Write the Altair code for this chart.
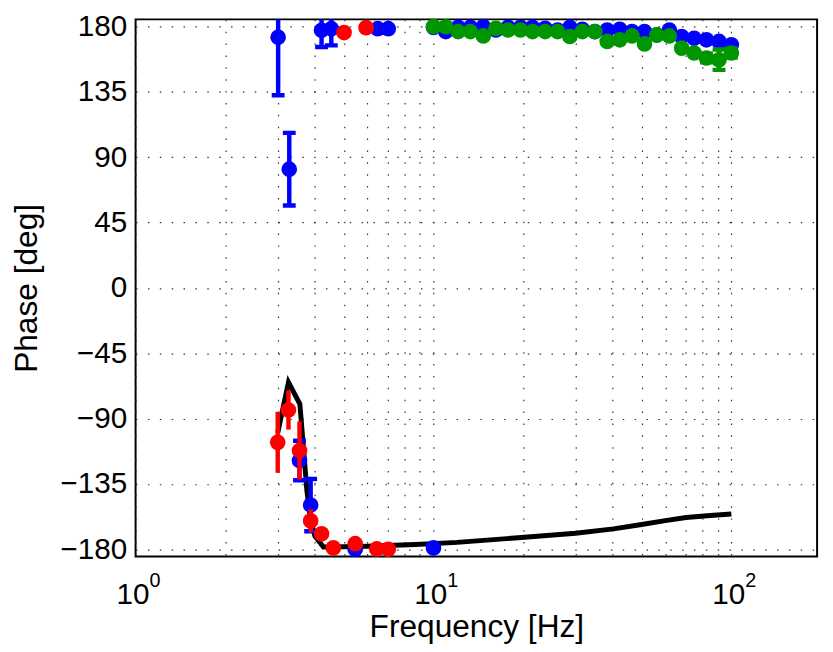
import altair as alt
import pandas as pd

# ---- data ----
line_f = [3.0, 3.26, 3.56, 3.66, 3.76, 3.87, 4.0, 4.27, 5.0, 6.0, 8.7, 12.0, 20.2, 30.0, 40.2, 50.0, 60.0, 70.5, 85.0, 100.0]
line_deg = [-100, -65, -80, -110, -140, -160, -171, -178.5, -178.3, -178, -176.8, -175.3, -171.8, -169, -166, -163, -160.3, -158.2, -156.8, -155.7]

blue_low_f = [3.01, 3.28, 3.55, 3.87, 4.21, 4.54, 5.46, 6.5, 7.05, 10.0]
blue_low_deg = [172.7, 81.8, -118.9, -149.6, 177.5, 178.6, -180.0, 178.6, 178.6, -179.1]
blue_low_err = [40, 25, 13.6, 18, 11.5, 11.5, 0, 0, 0, 0]

red_f = [3.0, 3.26, 3.55, 3.87, 4.21, 4.61, 5.01, 5.46, 5.94, 6.45, 7.05]
red_deg = [-106.4, -84.1, -112.0, -160.5, -169.4, -179.1, 175.9, -176.2, 179.3, -179.8, -180.0]
red_err = [21, 13.5, 20, 8, 0, 0, 0, 0, 0, 0, 0]

hi_f = [10.0, 11.0, 12.1, 13.3, 14.7, 16.2, 17.8, 19.6, 21.5, 23.7, 26.1, 28.7, 31.6,
        34.8, 38.3, 42.2, 46.4, 51.1, 56.2, 61.9, 68.1, 75.0, 82.5, 90.9, 100.0]
blue_hi_deg = [179.5, 176.6, 179.5, 179.5, 180.0, 177.7, 179.5, 179.5, 179.5, 178.8, 177.7, 179.5, 178.2,
               176.6, 177.7, 178.2, 176.6, 176.6, 174.3, 177.7, 173.2, 172.0, 170.9, 169.8, 167.5]
green_hi_deg = [180.0, 179.9, 176.6, 176.6, 173.6, 178.8, 177.7, 177.7, 176.6, 176.6, 176.6, 173.2, 176.6,
                176.6, 169.8, 170.9, 173.6, 168.1, 174.3, 173.6, 165.2, 161.8, 158.4, 157.2, 161.8]
green_hi_err = [0, 0, 0, 0, 0, 0, 0, 0, 0, 0, 0, 0, 0,
                0, 0, 0, 0, 0, 0, 0, 0, 0, 3, 7, 3]

x_grid = [1, 2, 3, 4, 5, 6, 7, 8, 9, 10, 20, 30, 40, 50, 60, 70, 80, 90, 100]
y_ticks = [-180, -135, -90, -45, 0, 45, 90, 135, 180]
xlab_pos = [1, 10, 100]
xlab_base = ["10", "10", "10"]
xlab_exp = ["0", "1", "2"]

FONT = "Liberation Sans"
BLUE = "#0000ff"
RED = "#ff0000"
GREEN = "#009600"
DOT = 250

xs = alt.Scale(type="log", domain=[1, 194], nice=False)
ys = alt.Scale(domain=[-185, 185], nice=False, zero=False)


def pts(f, d, e=None):
    df = pd.DataFrame({"f": f, "deg": d})
    if e is not None:
        df["lo"] = [a - b for a, b in zip(d, e)]
        df["hi"] = [a + b for a, b in zip(d, e)]
        df["err"] = e
    return df


line_df = pts(line_f, line_deg)
blue_df = pd.concat([pts(blue_low_f, blue_low_deg, blue_low_err),
                     pts(hi_f, blue_hi_deg, [0] * len(hi_f))], ignore_index=True)
green_df = pts(hi_f, green_hi_deg, green_hi_err)
red_df = pts(red_f, red_deg, red_err)
lab_df = pd.DataFrame({"f": xlab_pos, "base": xlab_base, "exp": xlab_exp})

grid_style = dict(grid=True, gridDash=[1.5, 10.5], gridColor="#333333", gridWidth=1.2,
                  ticks=False, domain=False)

line = alt.Chart(line_df).mark_line(color="black", strokeWidth=5).encode(
    x=alt.X("f:Q", scale=xs, axis=alt.Axis(values=x_grid, labels=False,
                                           title="Frequency [Hz]", titleFont=FONT,
                                           titleFontSize=32, titleFontWeight="normal",
                                           titleColor="black", titleY=81,
                                           titleBaseline="alphabetic", **grid_style)),
    y=alt.Y("deg:Q", scale=ys, axis=alt.Axis(values=y_ticks, labelFont=FONT, labelFontSize=30,
                                             labelColor="black", labelPadding=9,
                                             title="Phase [deg]", titleFont=FONT,
                                             titleFontSize=32, titleFontWeight="normal",
                                             titleColor="black", titleAngle=270,
                                             titleX=-110, titleY=271.5,
                                             titleBaseline="middle", **grid_style)),
)


def err_layers(df, color, caps):
    d = df[df["err"] > 0]
    layers = [alt.Chart(d).mark_rule(color=color, strokeWidth=4.5, clip=True).encode(
        x=alt.X("f:Q", scale=xs), y=alt.Y("lo:Q", scale=ys), y2="hi:Q")]
    if caps:
        for c in ["lo", "hi"]:
            layers.append(alt.Chart(d).mark_tick(color=color, orient="horizontal", size=13,
                                                 thickness=4.5, opacity=1, clip=True).encode(
                x=alt.X("f:Q", scale=xs), y=alt.Y(f"{c}:Q", scale=ys)))
    return layers


def dots(df, color):
    return alt.Chart(df).mark_circle(color=color, size=DOT, opacity=1).encode(
        x=alt.X("f:Q", scale=xs), y=alt.Y("deg:Q", scale=ys))


base_txt = alt.Chart(lab_df).mark_text(align="right", baseline="alphabetic", dx=14,
                                       font=FONT, fontSize=30, color="black").encode(
    x=alt.X("f:Q", scale=xs), y=alt.value(591), text="base:N")
exp_txt = alt.Chart(lab_df).mark_text(align="left", baseline="alphabetic", dx=14,
                                      font=FONT, fontSize=20, color="black").encode(
    x=alt.X("f:Q", scale=xs), y=alt.value(574), text="exp:N")

layers = [line]
layers += err_layers(blue_df, BLUE, True)
layers.append(dots(blue_df, BLUE))
layers += err_layers(green_df, GREEN, True)
layers.append(dots(green_df, GREEN))
layers += err_layers(red_df, RED, False)
layers.append(dots(red_df, RED))
layers += [base_txt, exp_txt]

chart = alt.layer(*layers).properties(
    width=689, height=543,
    autosize=alt.AutoSizeParams(type="none"),
    padding={"left": 129, "top": 8, "right": 8, "bottom": 85},
    background="white",
).configure_view(stroke="black", strokeWidth=2)

chart.save("out.html", embed_options={"renderer": "svg", "actions": False})
